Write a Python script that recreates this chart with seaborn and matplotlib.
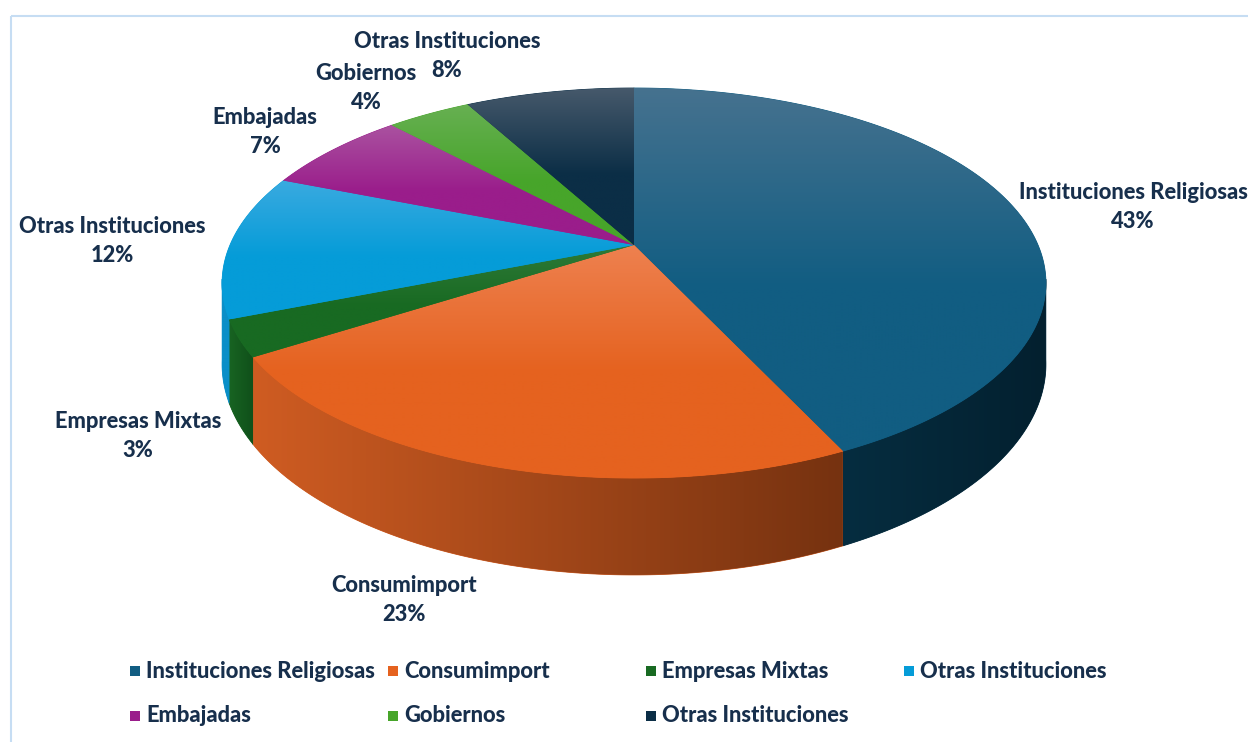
import numpy as np
import matplotlib
matplotlib.use("Agg")
import matplotlib.pyplot as plt
import seaborn as sns
from matplotlib.patches import Polygon, Rectangle
from matplotlib.colors import to_rgb

# ---------------- data ----------------
categories = ["Instituciones Religiosas", "Consumimport", "Empresas Mixtas",
              "Otras Instituciones", "Embajadas", "Gobiernos", "Otras Instituciones"]
values = [43, 23, 3, 12, 7, 4, 8]
pct_labels = ["43%", "23%", "3%", "12%", "7%", "4%", "8%"]

# ---------------- style ----------------
top_colors = ["#115d82", "#e5621f", "#186a22", "#059cd8", "#9a1d8b", "#47a52a", "#0b2e46"]
top_light = ["#46728f", "#ee8150", "#2f7a38", "#3aaae0", "#aa52a0", "#67b052", "#46596b"]
side_left = ["#062d40", "#cf5c22", "#186422", "#0a8fc8", "#7a1670", "#3a8a22", "#08263a"]
side_right = ["#03202f", "#763210", "#10501a", "#0a8fc8", "#7a1670", "#3a8a22", "#08263a"]
text_color = "#172f4c"

sns.set_theme(style="white")
plt.rcParams['font.family'] = ['Lato', 'DejaVu Sans']
WEIGHT = 'black'

W, H = 1248, 742
fig = plt.figure(figsize=(W / 100, H / 100), dpi=100)
ax = fig.add_axes([0, 0, 1, 1])
ax.set_xlim(0, W)
ax.set_ylim(H, 0)
ax.axis('off')

# perspective projection of the pie disk
CX, CY = 634.0, 245.0
A, B, K = 404.0, 187.6, 0.195
DEPTH = 78.0


def proj(theta):
    u = np.sin(theta)
    v = -np.cos(theta)
    d = 1 - K * v
    return CX + A * u / d, CY + B * v / d, DEPTH / d


def blend(c0, c1, t):
    c0 = np.array(to_rgb(c0))
    c1 = np.array(to_rgb(c1))
    t = np.asarray(t)[..., None]
    return c0 * (1 - t) + c1 * t


def grad_fill(verts, colors_img, zorder, base):
    verts = np.asarray(verts)
    poly = Polygon(verts, closed=True, facecolor=base, edgecolor=base,
                   lw=0.6, zorder=zorder)
    ax.add_patch(poly)
    x0, x1 = verts[:, 0].min(), verts[:, 0].max()
    y0, y1 = verts[:, 1].min(), verts[:, 1].max()
    im = ax.imshow(colors_img, extent=(x0, x1, y1, y0), origin='upper',
                   aspect='auto', interpolation='bilinear', zorder=zorder + 0.1)
    im.set_clip_path(poly)


total = float(sum(values))
bounds = np.concatenate([[0], np.cumsum(values)]) / total * 2 * np.pi
vis_lo = np.pi - np.arccos(K)
vis_hi = np.pi + np.arccos(K)

# sides
n = 256
tt = np.linspace(0, 1, n)
for i in range(len(values)):
    a0, a1 = bounds[i], bounds[i + 1]
    s0, s1 = max(a0, vis_lo - 0.02), min(a1, vis_hi + 0.02)
    if s1 <= s0:
        continue
    th = np.linspace(s0, s1, 200)
    x, y, dz = proj(th)
    verts = np.vstack([np.column_stack([x, y]), np.column_stack([x, y + dz])[::-1]])
    img = blend(side_left[i], side_right[i], tt)[None, :, :]
    grad_fill(verts, img, 2, side_left[i])

# tops
for i in range(len(values)):
    a0, a1 = bounds[i], bounds[i + 1]
    th = np.linspace(a0, a1, 300)
    x, y, _ = proj(th)
    verts = np.vstack([[CX, CY], np.column_stack([x, y])])
    lt = np.clip(1 - tt / 0.55, 0, 1)
    img = blend(top_colors[i], top_light[i], lt)[:, None, :]
    grad_fill(verts, img, 3, top_colors[i])

# ---------------- labels ----------------
probe = ax.text(0, 0, "Instituciones Religiosas", fontsize=14, fontweight=WEIGHT)
fig.canvas.draw()
w = probe.get_window_extent(renderer=fig.canvas.get_renderer()).width
FS = 14 * 230.0 / w
probe.remove()

label_pos = [(1133, 207), (404, 600), (138, 436), (112, 241), (265, 132), (366, 88), (447, 56)]
HALF_GAP = 14.5
for i, (lx, ly) in enumerate(label_pos):
    ax.text(lx, ly - HALF_GAP, categories[i], ha='center', va='center',
            fontsize=FS, fontweight=WEIGHT, color=text_color, zorder=5)
    ax.text(lx, ly + HALF_GAP, pct_labels[i], ha='center', va='center',
            fontsize=FS, fontweight=WEIGHT, color=text_color, zorder=5)

# ---------------- legend ----------------
col_x = [130, 388, 646, 904]
row_y = [671, 716]
for i, cat in enumerate(categories):
    r, c = divmod(i, 4)
    sx, sy = col_x[c], row_y[r]
    ax.add_patch(Rectangle((sx, sy - 5), 10, 10, facecolor=top_colors[i],
                           edgecolor='none', zorder=5))
    ax.text(sx + 16, sy, cat, ha='left', va='center', fontsize=FS,
            fontweight=WEIGHT, color=text_color, zorder=5)

# chart border
ax.add_patch(Rectangle((10.5, 15.5), 1300, 800, facecolor='none',
                       edgecolor='#c6ddf3', lw=1.5, zorder=1))

ax.set_xlim(0, W)
ax.set_ylim(H, 0)
fig.savefig("out.png", dpi=100)
